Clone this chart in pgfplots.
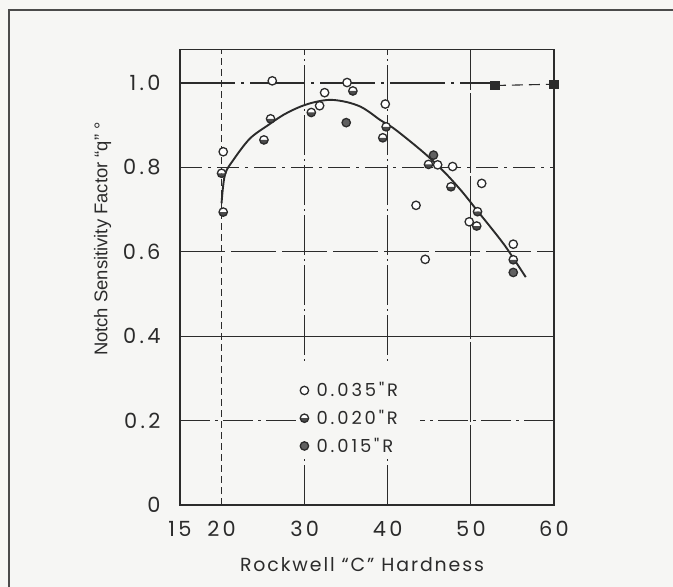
\documentclass[border=0pt]{standalone}
\usepackage{pgfplots}
\pgfplotsset{compat=1.18}
\usetikzlibrary{plotmarks}
\usepackage{fontspec}
\setmainfont{Poppins}
\newfontfamily\widefont{Poppins}[LetterSpace=10]
\newfontfamily\tickfont{Poppins}[LetterSpace=16]
\newfontfamily\helv{Liberation Sans}
\definecolor{ink}{HTML}{2B2B2B}
\definecolor{paper}{HTML}{F6F6F4}
\begin{document}
\begin{tikzpicture}[x=1bp,y=1bp]
\fill[paper] (-180,-82) rectangle (493,505);
\draw[ink!85, line width=1.8bp] (-171,-82) -- (-171,495) -- (493,495);
\begin{axis}[
  at={(0,0)}, anchor=south west,
  scale only axis, width=374bp, height=455.8bp,
  xmin=15, xmax=60, ymin=0, ymax=1.08,
  axis line style={ink, line width=1.3bp},
  xtick={15,20,30,40,50,60}, xticklabels={15,20,30,40,50,60},
  ytick={0,0.2,0.4,0.6,0.8,1.0}, yticklabels={0,0.2,0.4,0.6,0.8,1.0},
  major tick length=0,
  tick label style={font=\tickfont\fontsize{21}{21}\selectfont, text=ink},
  xticklabel style={yshift=-13bp},
  yticklabel style={xshift=-16bp},
  clip=false,
  legend style={at={(axis cs:29.2,0.30)}, anchor=north west, draw=none, fill=none,
    font=\tickfont\fontsize{18}{18}\selectfont, text=ink, row sep=8bp, inner sep=2bp},
  legend cell align=left,
]
% grid lines
\draw[ink, line width=1.1bp, dash pattern=on 7bp off 4bp] (20,0) -- (20,1.08);
\draw[ink, line width=1.1bp, dash pattern=on 40bp off 4bp on 2bp off 4bp] (30,0) -- (30,1.08);
\draw[ink, line width=1.1bp, dash pattern=on 40bp off 4bp on 2bp off 4bp] (40,0) -- (40,1.08);
\draw[ink, line width=1.1bp, dash pattern=on 80bp off 3bp] (50,0) -- (50,1.08);
\draw[ink, line width=1.1bp, dash pattern=on 55bp off 6bp on 3bp off 6bp] (15,1) -- (52.9,1);
\draw[ink, line width=1.1bp, dash pattern=on 22bp off 6bp on 3bp off 6bp] (15,0.8) -- (60,0.8);
\draw[ink, line width=1.1bp, dash pattern=on 45bp off 6bp] (15,0.6) -- (60,0.6);
\draw[ink, line width=1.1bp] (15,0.4) -- (60,0.4);
\draw[ink, line width=1.1bp, dash pattern=on 30bp off 5bp on 3bp off 5bp] (15,0.2) -- (60,0.2);
\fill[paper] (29.1,0.114) rectangle (43.9,0.332);
% squares
\addplot[ink, line width=1.1bp, dash pattern=on 11bp off 6bp, mark=square*, mark size=4bp,
  mark options={solid, fill=ink}, forget plot] coordinates {(52.9,0.994) (60,0.997)};
% fitted curve
\addplot[ink, line width=1.9bp, smooth, tension=0.55, forget plot] coordinates {
 (20.0,0.715) (20.4,0.782) (21.4,0.817) (23.4,0.868) (25.6,0.900) (27.5,0.925)
 (29.5,0.944) (31.3,0.955) (33.1,0.960) (35.0,0.955) (36.7,0.944) (38.0,0.928)
 (39.1,0.912) (40.6,0.894) (42.8,0.860) (44.9,0.825) (47.0,0.785) (49.0,0.741)
 (50.7,0.699) (52.5,0.655) (54.0,0.617) (55.1,0.585) (56.6,0.540)};
% 0.035" R (open)
\addplot[only marks, mark=*, mark size=4.2bp, mark options={fill=white, draw=ink, line width=1.3bp}] coordinates {
 (20.2,0.837) (26.1,1.005) (31.8,0.946) (32.4,0.977) (35.1,1.001) (39.7,0.950)
 (43.4,0.710) (44.5,0.582) (46.0,0.806) (47.8,0.802) (51.3,0.762) (49.8,0.671) (55.1,0.618)};
\addlegendentry{\hspace{6bp}0.035"R}
% 0.020" R (half filled)
\addplot[only marks, mark=halfcircle*, mark size=4.2bp, mark options={fill=white, mark color=ink!85, draw=ink, line width=1.3bp}] coordinates {
 (20.0,0.786) (20.2,0.694) (25.1,0.865) (25.9,0.915) (30.8,0.930) (35.8,0.981)
 (39.4,0.870) (39.8,0.896) (44.9,0.807) (47.6,0.754) (50.8,0.695) (50.7,0.661) (55.1,0.581)};
\addlegendentry{\hspace{6bp}0.020"R}
% 0.015" R (filled)
\addplot[only marks, mark=*, mark size=4.2bp, mark options={fill=ink!75, draw=ink, line width=1.3bp}] coordinates {
 (35.0,0.906) (45.5,0.829) (55.1,0.551)};
\addlegendentry{\hspace{6bp}0.015"R}
\node[rotate=90, font=\helv\fontsize{18.5}{18.5}\selectfont, text=ink] at (axis cs:5.7,0.63) {Notch Sensitivity Factor “q” °};
\node[font=\widefont\fontsize{19}{19}\selectfont, text=ink] at (axis cs:36.9,-0.142) {Rockwell “C” Hardness};
\end{axis}
\pgfresetboundingbox
\path (-180,-82) rectangle (493,505);
\end{tikzpicture}
\end{document}
